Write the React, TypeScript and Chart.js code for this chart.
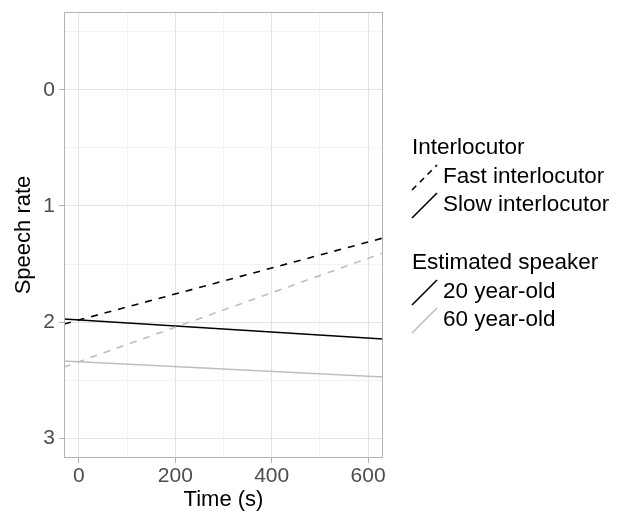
import React, { useEffect, useRef } from "react";
import { Chart, registerables } from "chart.js";

Chart.register(...registerables);

// Data
const timeEnds = [-31, 631];
const fast20 = [2.017, 1.276];
const slow20 = [1.974, 2.147];
const fast60 = [2.388, 1.405];
const slow60 = [2.336, 2.474];
const xTicks = [0, 100, 200, 300, 400, 500, 600];
const yTicks = [-0.5, 0, 0.5, 1, 1.5, 2, 2.5, 3];
const xMajor = [0, 200, 400, 600];
const yMajor = [0, 1, 2, 3];

const FONT = "'Liberation Sans', Arial, sans-serif";
const BLACK = "#000000";
const GREY = "#BEBEBE";

const legendGroups = [
  {
    title: "Interlocutor",
    items: [
      { label: "Fast interlocutor", color: BLACK, dash: [6, 5] },
      { label: "Slow interlocutor", color: BLACK, dash: [] },
    ],
  },
  {
    title: "Estimated speaker",
    items: [
      { label: "20 year-old", color: BLACK, dash: [] },
      { label: "60 year-old", color: GREY, dash: [] },
    ],
  },
];

const panelPlugin = {
  id: "panelBorder",
  afterDraw(chart: any) {
    const { ctx, chartArea } = chart;
    ctx.save();
    ctx.strokeStyle = "#B3B3B3";
    ctx.lineWidth = 1;
    ctx.strokeRect(
      Math.round(chartArea.left) + 0.5,
      Math.round(chartArea.top) + 0.5,
      Math.round(chartArea.right - chartArea.left) - 1,
      Math.round(chartArea.bottom - chartArea.top) - 1
    );
    ctx.restore();
  },
};

const legendPlugin = {
  id: "ggLegend",
  afterDraw(chart: any) {
    const { ctx } = chart;
    ctx.save();
    ctx.textBaseline = "middle";
    ctx.textAlign = "left";
    const x0 = 412;
    const rowH = 28;
    let y = 148;
    legendGroups.forEach((g) => {
      ctx.font = `22.5px ${FONT}`;
      ctx.fillStyle = "#000";
      ctx.fillText(g.title, x0, y);
      y += 29;
      g.items.forEach((it) => {
        ctx.save();
        ctx.strokeStyle = it.color;
        ctx.lineWidth = 1.6;
        ctx.setLineDash(it.dash);
        ctx.beginPath();
        ctx.moveTo(x0, y + 13);
        ctx.lineTo(x0 + 25, y - 12);
        ctx.stroke();
        ctx.restore();
        ctx.font = `22.5px ${FONT}`;
        ctx.fillStyle = "#000";
        ctx.fillText(it.label, x0 + 31, y);
        y += rowH;
      });
      y += 30;
    });
    ctx.restore();
  },
};

export default function App() {
  const ref = useRef<HTMLCanvasElement | null>(null);

  useEffect(() => {
    document.body.style.margin = "0";
    const canvas = ref.current!;
    const mk = (x: number[], y: number[]) => x.map((v, i) => ({ x: v, y: y[i] }));
    const chart = new Chart(canvas, {
      type: "line",
      data: {
        datasets: [
          { data: mk(timeEnds, slow60), borderColor: GREY, borderWidth: 1.6, pointRadius: 0 },
          { data: mk(timeEnds, fast60), borderColor: GREY, borderWidth: 1.6, borderDash: [7, 7], pointRadius: 0 },
          { data: mk(timeEnds, slow20), borderColor: BLACK, borderWidth: 1.6, pointRadius: 0 },
          { data: mk(timeEnds, fast20), borderColor: BLACK, borderWidth: 1.6, borderDash: [7, 7], pointRadius: 0 },
        ],
      },
      options: {
        responsive: false,
        animation: false,
        layout: { padding: { top: 12, right: 241, left: 0, bottom: 0 } },
        plugins: { legend: { display: false }, tooltip: { enabled: false } },
        scales: {
          x: {
            type: "linear",
            min: timeEnds[0],
            max: timeEnds[1],
            afterBuildTicks: (s: any) => {
              s.ticks = xTicks.map((v) => ({ value: v }));
            },
            afterFit: (s: any) => {
              s.height = 55;
              s.paddingLeft = 0;
              s.paddingRight = 0;
            },
            ticks: {
              autoSkip: false,
              maxRotation: 0,
              padding: 1,
              color: "#4D4D4D",
              font: { family: FONT, size: 21 },
              callback: (v: any) => (xMajor.includes(v) ? String(v) : ""),
            },
            grid: {
              color: (c: any) => (xMajor.includes(c.tick?.value) ? "#E3E3E3" : "#F2F2F2"),
              lineWidth: 1,
              tickLength: 5,
              tickColor: (c: any) => (xMajor.includes(c.tick?.value) ? "#B3B3B3" : "rgba(0,0,0,0)"),
            },
            border: { display: false },
            title: {
              display: true,
              text: "Time (s)",
              color: "#000",
              font: { family: FONT, size: 22 },
              padding: { top: 1, bottom: 0 },
            },
          },
          y: {
            type: "linear",
            reverse: true,
            min: -0.672,
            max: 3.172,
            afterBuildTicks: (s: any) => {
              s.ticks = yTicks.map((v) => ({ value: v }));
            },
            afterFit: (s: any) => {
              s.width = 64;
              s.paddingTop = 0;
              s.paddingBottom = 0;
            },
            ticks: {
              autoSkip: false,
              padding: 4,
              color: "#4D4D4D",
              font: { family: FONT, size: 21 },
              callback: (v: any) => (yMajor.includes(v) ? String(v) : ""),
            },
            grid: {
              color: (c: any) => (yMajor.includes(c.tick?.value) ? "#E3E3E3" : "#F2F2F2"),
              lineWidth: 1,
              tickLength: 5,
              tickColor: (c: any) => (yMajor.includes(c.tick?.value) ? "#B3B3B3" : "rgba(0,0,0,0)"),
            },
            border: { display: false },
            title: {
              display: true,
              text: "Speech rate",
              color: "#000",
              font: { family: FONT, size: 22 },
              padding: { top: 11, bottom: 0 },
            },
          },
        },
      },
      plugins: [panelPlugin, legendPlugin],
    } as any);
    return () => chart.destroy();
  }, []);

  return (
    <div style={{ width: 624, height: 513, background: "#fff" }}>
      <canvas ref={ref} width={624} height={513} />
    </div>
  );
}
